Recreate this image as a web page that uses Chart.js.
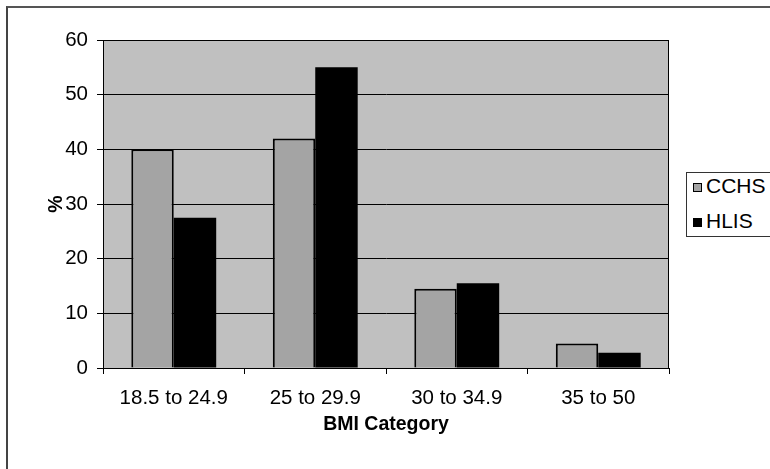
<!DOCTYPE html>
<html>
<head>
<meta charset="utf-8">
<script src="https://cdn.jsdelivr.net/npm/chart.js@4/dist/chart.umd.min.js"></script>
<style>
  html, body { margin: 0; padding: 0; background: #fff; overflow: hidden; }
  #wrap { position: relative; width: 770px; height: 469px; overflow: hidden; }
  #frame { position: absolute; left: 6px; top: 6px; width: 800px; height: 500px;
           border-left: 2px solid #444; border-top: 2px solid #555; box-sizing: border-box; }
  canvas { position: absolute; left: 0; top: 0; }
  #legend { position: absolute; left: 686px; top: 172px; width: 120px; height: 65px;
            border: 1px solid #333; box-sizing: border-box; background: #fff;
            font-family: "Liberation Sans", Arial, sans-serif; font-size: 21px; color: #000; }
  .item { position: absolute; left: 6px; height: 24px; line-height: 24px; white-space: nowrap; }
  .sw { display: inline-block; width: 9px; height: 9px; margin-right: 4px; vertical-align: 1px;
        box-sizing: border-box; border: 1px solid #000; }
</style>
</head>
<body>
<div id="wrap">
  <div id="frame"></div>
  <canvas id="c" width="770" height="469"></canvas>
  <div id="legend"></div>
</div>
<script>
// BMI categories and share of respondents (%) in each survey
const categories = ['18.5 to 24.9', '25 to 29.9', '30 to 34.9', '35 to 50'];
const cchsValues = [40, 42, 14.5, 4.5];
const hlisValues = [27.5, 55, 15.5, 2.8];
const seriesNames = ['CCHS', 'HLIS'];
const yTickValues = [0, 10, 20, 30, 40, 50, 60];

const FONT = '"Liberation Sans", Arial, sans-serif';

// gray plot background and a border round the plot area
const plotFrame = {
  id: 'plotFrame',
  beforeDraw(chart) {
    const { ctx, chartArea: a } = chart;
    ctx.save();
    ctx.fillStyle = '#c0c0c0';
    ctx.fillRect(a.left, a.top, a.right - a.left, a.bottom - a.top);
    ctx.restore();
  },
  afterDatasetsDraw(chart) {
    const { ctx, chartArea: a } = chart;
    ctx.save();
    ctx.strokeStyle = '#000';
    ctx.lineWidth = 1;
    ctx.strokeRect(a.left + 0.5, a.top + 0.5, a.right - a.left - 1, a.bottom - a.top);
    ctx.restore();
  }
};

const colors = [
  { bg: '#a4a4a4', border: '#000', bw: 2 },
  { bg: '#000000', border: '#000', bw: 0 }
];

const chart = new Chart(document.getElementById('c'), {
  type: 'bar',
  data: {
    labels: categories,
    datasets: [
      { label: seriesNames[0], data: cchsValues, backgroundColor: colors[0].bg,
        borderColor: colors[0].border, borderWidth: colors[0].bw, borderSkipped: 'bottom' },
      { label: seriesNames[1], data: hlisValues, backgroundColor: colors[1].bg,
        borderColor: colors[1].border, borderWidth: colors[1].bw }
    ]
  },
  options: {
    responsive: false,
    animation: false,
    devicePixelRatio: 1,
    layout: { padding: { left: 0, right: 101, top: 40, bottom: 0 } },
    datasets: { bar: { categoryPercentage: 0.6, barPercentage: 1.0 } },
    plugins: { legend: { display: false }, tooltip: { enabled: false } },
    scales: {
      x: {
        grid: { drawOnChartArea: false, drawTicks: true, tickLength: 6, tickColor: '#000', offset: true },
        border: { color: '#000', width: 1 },
        ticks: { color: '#000', font: { family: FONT, size: 20.5 }, padding: 12, maxRotation: 0 },
        title: { display: true, text: 'BMI Category', color: '#000',
                 font: { family: FONT, size: 19.5, weight: 'bold' }, padding: { top: 0, bottom: 33 } },
        afterFit(scale) { scale.height = 101; }
      },
      y: {
        min: 0, max: 60,
        afterBuildTicks(scale) { scale.ticks = yTickValues.map(v => ({ value: v })); },
        grid: { color: '#000', lineWidth: 1, tickLength: 6, tickColor: '#000' },
        border: { color: '#000', width: 1 },
        ticks: { color: '#000', font: { family: FONT, size: 20.5 }, padding: 9 },
        title: { display: true, text: '%', color: '#000',
                 font: { family: FONT, size: 19.5, weight: 'bold' }, padding: { top: 45, bottom: 0 } },
        afterFit(scale) { scale.width = 103; }
      }
    }
  },
  plugins: [plotFrame]
});

// legend built from the chart's datasets
const legend = document.getElementById('legend');
chart.data.datasets.forEach((ds, i) => {
  const item = document.createElement('div');
  item.className = 'item';
  item.style.top = (i === 0 ? 1 : 36) + 'px';
  const sw = document.createElement('span');
  sw.className = 'sw';
  sw.style.background = ds.backgroundColor;
  item.appendChild(sw);
  item.appendChild(document.createTextNode(ds.label));
  legend.appendChild(item);
});
</script>
</body>
</html>
